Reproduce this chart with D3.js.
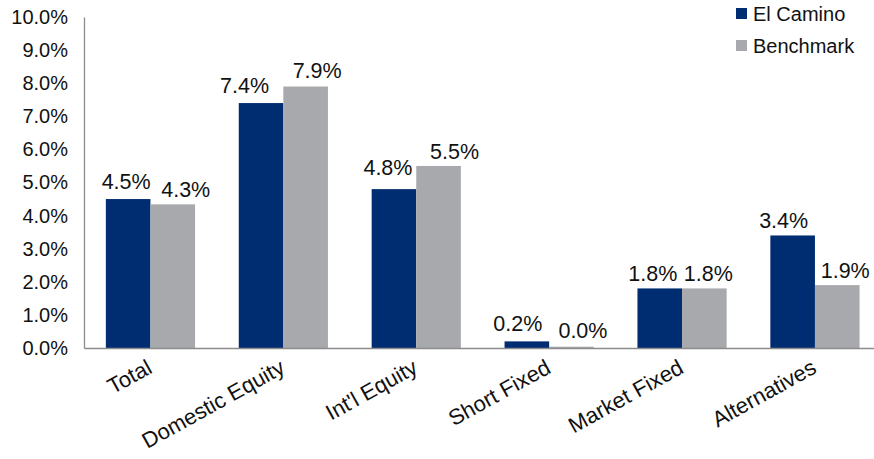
<!DOCTYPE html>
<html>
<head>
<meta charset="utf-8">
<script src="https://cdn.jsdelivr.net/npm/d3@7/dist/d3.min.js"></script>
<style>
  html, body { margin: 0; padding: 0; background: #fff; }
  svg { display: block; font-family: "Liberation Sans", Arial, sans-serif; }
</style>
</head>
<body>
<svg id="chart" width="874" height="459"></svg>
<script>
// Asset-class returns (%)
const categories = ["Total", "Domestic Equity", "Int'l Equity", "Short Fixed", "Market Fixed", "Alternatives"];
const seriesNames = ["El Camino", "Benchmark"];
const elCamino = [4.5, 7.4, 4.8, 0.2, 1.8, 3.4];
const benchmark = [4.34, 7.9, 5.5, 0.04, 1.8, 1.9];
const yTicks = [0, 1, 2, 3, 4, 5, 6, 7, 8, 9, 10];

// Hand-placed label nudges [dx, dy] in px, per series and category
const labelNudge = {
  "El Camino": [[-2, -3.5], [-16.5, -3], [-6, -7], [-9, -3], [-7, 0], [-9, 0]],
  "Benchmark": [[13, 0], [11.5, -2], [16, 0], [11.5, -2], [4, 0], [8, 0]]
};

const colors = { "El Camino": "#002D72", "Benchmark": "#A7A9AC" };
const values = { "El Camino": elCamino, "Benchmark": benchmark };

const svg = d3.select("#chart");
const plotLeft = 84, plotRight = 881.4, plotTop = 17, plotBottom = 348;

const x = d3.scaleBand().domain(categories).range([plotLeft, plotRight]).paddingInner(0).paddingOuter(0);
const x1 = d3.scaleBand().domain(seriesNames).range([0, x.bandwidth()]).paddingInner(0).paddingOuter(0.49);
const y = d3.scaleLinear().domain([0, 10]).range([plotBottom, plotTop]);

const fmt = v => d3.format(".1f")(v) + "%";

// Bars
const groups = svg.append("g").selectAll("g")
  .data(categories)
  .join("g")
  .attr("transform", d => `translate(${x(d)},0)`);

groups.selectAll("rect")
  .data((d, i) => seriesNames.map(s => ({ s, i, v: values[s][i] })))
  .join("rect")
  .attr("x", d => x1(d.s))
  .attr("width", x1.bandwidth())
  .attr("y", d => y(d.v))
  .attr("height", d => y(0) - y(d.v))
  .attr("fill", d => colors[d.s]);

// Value labels
groups.selectAll("text")
  .data((d, i) => seriesNames.map(s => ({ s, i, v: values[s][i] })))
  .join("text")
  .attr("x", d => x1(d.s) + x1.bandwidth() / 2 + labelNudge[d.s][d.i][0])
  .attr("y", d => y(d.v) - 7 + labelNudge[d.s][d.i][1])
  .attr("text-anchor", "middle")
  .attr("font-size", 21.5)
  .attr("fill", "#111")
  .text(d => fmt(d.v));

// Y axis
const yAxis = svg.append("g")
  .attr("transform", `translate(${plotLeft},0)`)
  .call(d3.axisLeft(y).tickValues(yTicks).tickFormat(fmt).tickSize(0).tickPadding(16));
yAxis.select(".domain").attr("stroke", "#8c8c8c").attr("stroke-width", 1.3);
yAxis.selectAll("text").attr("font-size", 20).attr("fill", "#111")
  .attr("font-family", "'Liberation Sans', Arial, sans-serif");

// X axis
const xAxis = svg.append("g")
  .attr("transform", `translate(0,${plotBottom})`)
  .call(d3.axisBottom(x).tickSize(0).tickSizeOuter(0));
xAxis.select(".domain").attr("stroke", "#8c8c8c").attr("stroke-width", 1.3);
xAxis.selectAll("text")
  .attr("font-size", 22)
  .attr("fill", "#111")
  .attr("font-family", "'Liberation Sans', Arial, sans-serif")
  .attr("text-anchor", "end")
  .attr("y", 0).attr("dy", 0)
  .attr("transform", "translate(3,24) rotate(-29)");

// Legend
const legend = svg.append("g").selectAll("g")
  .data(seriesNames)
  .join("g")
  .attr("transform", (d, i) => `translate(736,${8 + i * 32})`);
legend.append("rect")
  .attr("width", 11).attr("height", 11)
  .attr("fill", d => colors[d]);
legend.append("text")
  .attr("x", 17).attr("y", 12.5)
  .attr("font-size", 20)
  .attr("fill", "#111")
  .text(d => d);
</script>
</body>
</html>
